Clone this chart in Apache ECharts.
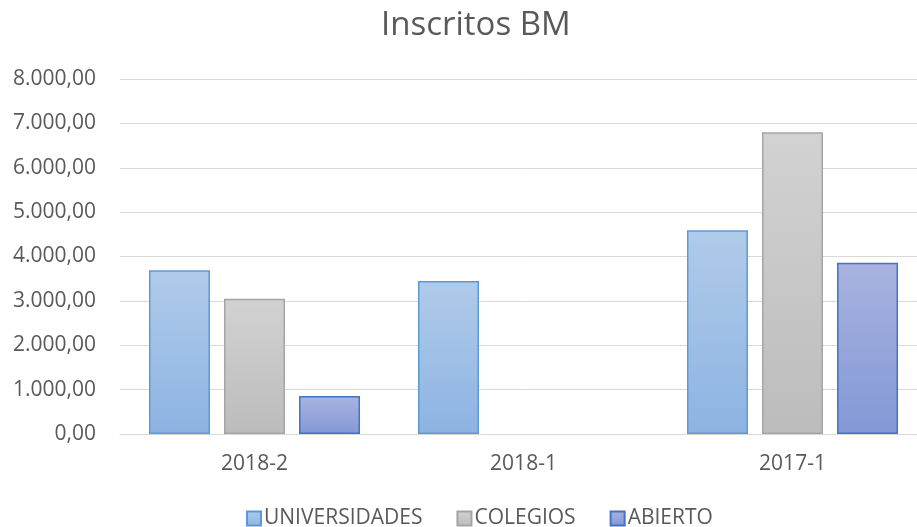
<!DOCTYPE html>
<html>
<head>
<meta charset="utf-8">
<script src="https://cdn.jsdelivr.net/npm/echarts@6/dist/echarts.min.js"></script>
<style>
  html, body { margin: 0; padding: 0; background: #fff; overflow: hidden; }
  /* el área de trazado de Excel sobresale un poco a la derecha */
  #chart { width: 927px; height: 527px; }
</style>
</head>
<body>
<div id="chart"></div>
<script>
// datos
var categories = ['2018-2', '2018-1', '2017-1'];
var universidades = [3690, 3450, 4590];
var colegios = [3050, 0, 6800];
var abierto = [855, 0, 3860];
var yTicks = { min: 0, max: 8000, interval: 1000 };

var FONT = '"Open Sans", "Liberation Sans", sans-serif';
var TXT = '#595959';

function fmt(v) {
    var s = Math.round(v).toString().replace(/\B(?=(\d{3})+(?!\d))/g, '.');
    return s + ',00';
}

function grad(top, bottom) {
    return new echarts.graphic.LinearGradient(0, 0, 0, 1, [
        { offset: 0, color: top },
        { offset: 1, color: bottom }
    ]);
}

// 0 no se dibuja (como en Excel)
function noZero(arr) {
    return arr.map(function (v) { return v === 0 ? '-' : v; });
}

var chart = echarts.init(document.getElementById('chart'));
chart.setOption({
    animation: false,
    title: {
        text: 'Inscritos BM',
        left: 376,
        top: 4,
        textStyle: { fontFamily: FONT, fontSize: 33, fontWeight: 'normal', color: TXT }
    },
    legend: {
        top: 503,
        left: 241,
        itemGap: 34,
        itemWidth: 14,
        itemHeight: 14,
        icon: 'rect',
        textStyle: { fontFamily: FONT, fontSize: 21, color: TXT, padding: [0, 0, 0, -2] }
    },
    grid: { left: 120, right: 0, top: 79, bottom: 93, containLabel: false },
    xAxis: {
        type: 'category',
        data: categories,
        axisLine: { lineStyle: { color: '#d9d9d9', width: 1 } },
        axisTick: { show: false },
        axisLabel: { fontFamily: FONT, fontSize: 21, color: TXT, margin: 20 }
    },
    yAxis: {
        type: 'value',
        min: yTicks.min,
        max: yTicks.max,
        interval: yTicks.interval,
        axisLine: { show: false },
        axisTick: { show: false },
        splitLine: { lineStyle: { color: '#d9d9d9', width: 1 } },
        axisLabel: { fontFamily: FONT, fontSize: 21, color: TXT, margin: 24, formatter: fmt }
    },
    series: [
        {
            name: 'UNIVERSIDADES',
            type: 'bar',
            data: noZero(universidades),
            barWidth: 61,
            barGap: '23%',
            itemStyle: { color: grad('#b0cbea', '#8db3e2'), borderColor: '#5b9bd5', borderWidth: 1.5 }
        },
        {
            name: 'COLEGIOS',
            type: 'bar',
            data: noZero(colegios),
            barWidth: 61,
            itemStyle: { color: grad('#d2d2d2', '#bcbcbc'), borderColor: '#a5a5a5', borderWidth: 1.5 }
        },
        {
            name: 'ABIERTO',
            type: 'bar',
            data: noZero(abierto),
            barWidth: 61,
            itemStyle: { color: grad('#a9b3df', '#8298d6'), borderColor: '#4472c4', borderWidth: 1.5 }
        }
    ]
});
</script>
</body>
</html>
